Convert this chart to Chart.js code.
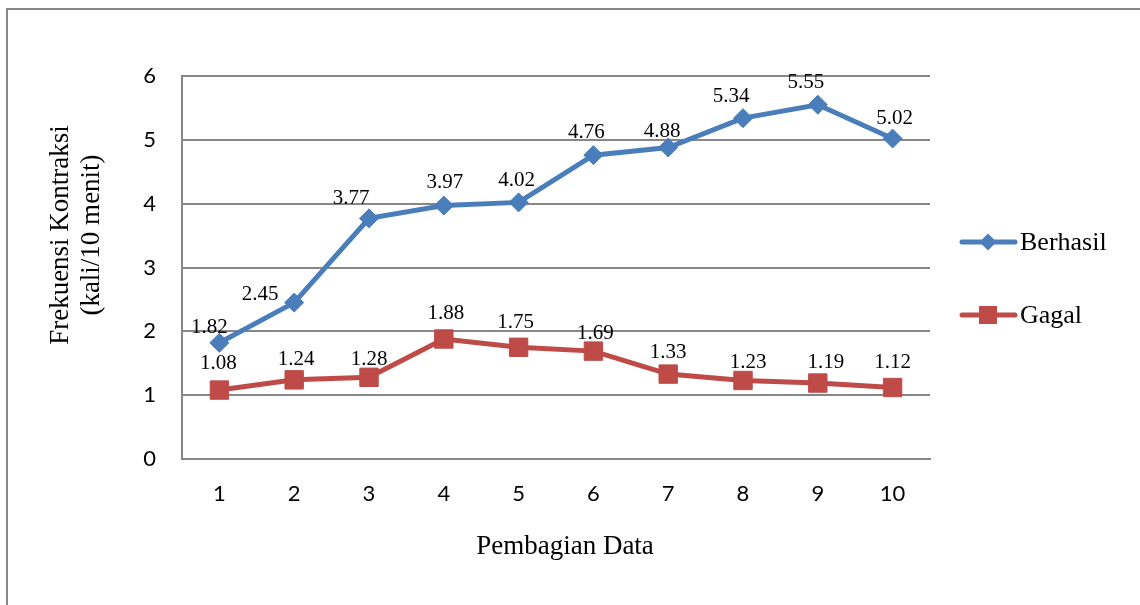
<!DOCTYPE html>
<html>
<head>
<meta charset="utf-8">
<title>Frekuensi Kontraksi</title>
<script src="https://cdn.jsdelivr.net/npm/chart.js@4.4.1/dist/chart.umd.min.js"></script>
<style>
  html, body { margin: 0; padding: 0; background: #ffffff; }
  #wrap { width: 1140px; height: 605px; position: relative; }
</style>
</head>
<body>
<div id="wrap"><canvas id="chart" width="1140" height="605"></canvas></div>
<script>
// Categories and series values
const categories = ['1', '2', '3', '4', '5', '6', '7', '8', '9', '10'];
const berhasil = [1.82, 2.45, 3.77, 3.97, 4.02, 4.76, 4.88, 5.34, 5.55, 5.02];
const gagal = [1.08, 1.24, 1.28, 1.88, 1.75, 1.69, 1.33, 1.23, 1.19, 1.12];
const yTicks = [0, 1, 2, 3, 4, 5, 6];

const xTitle = 'Pembagian Data';
const yTitleLines = ['Frekuensi Kontraksi', '(kali/10 menit)'];

const BLUE = '#4a7ebb';
const RED = '#be4b48';
const GRID = '#878787';
const SERIF = '"Liberation Serif", "Times New Roman", serif';
const SANS = 'Lato, "Open Sans", sans-serif';

// Small nudges for the value labels so they sit clear of the lines
const labelNudge = [
  [[-10, -15], [-34, -8], [-18, -20], [1, -23], [-2, -22], [-7, -23], [-6, -16], [-12, -22], [-12, -22], [2, -20]],
  [[-1, -27], [2, -20], [0, -18], [2, -26], [-3, -25], [2, -18], [0, -22], [5, -18], [8, -21], [0, -25]]
];

// Outer frame (top and left edges)
const framePlugin = {
  id: 'frame',
  beforeDraw(chart) {
    const ctx = chart.ctx;
    ctx.save();
    ctx.fillStyle = '#ffffff';
    ctx.fillRect(0, 0, chart.width, chart.height);
    ctx.strokeStyle = GRID;
    ctx.lineWidth = 2;
    ctx.beginPath();
    ctx.moveTo(7, chart.height);
    ctx.lineTo(7, 9);
    ctx.lineTo(chart.width, 9);
    ctx.stroke();
    ctx.restore();
  }
};

// Value labels above each marker
const valueLabels = {
  id: 'valueLabels',
  afterDatasetsDraw(chart) {
    const ctx = chart.ctx;
    ctx.save();
    ctx.font = '21px ' + SERIF;
    ctx.fillStyle = '#000000';
    ctx.textAlign = 'center';
    ctx.textBaseline = 'middle';
    chart.data.datasets.forEach((ds, di) => {
      const meta = chart.getDatasetMeta(di);
      meta.data.forEach((pt, i) => {
        const n = labelNudge[di][i];
        ctx.fillText(ds.data[i].toFixed(2), pt.x + n[0], pt.y + n[1]);
      });
    });
    ctx.restore();
  }
};

// Axis titles and the line-with-marker legend on the right
const titlesAndLegend = {
  id: 'titlesAndLegend',
  afterDraw(chart) {
    const ctx = chart.ctx;
    ctx.save();
    ctx.fillStyle = '#000000';
    ctx.font = '27px ' + SERIF;
    ctx.textAlign = 'center';
    ctx.textBaseline = 'middle';
    ctx.fillText(xTitle, 565, 547);

    ctx.save();
    ctx.translate(61, 235);
    ctx.rotate(-Math.PI / 2);
    ctx.fillText(yTitleLines[0], 0, 0);
    ctx.restore();
    ctx.save();
    ctx.translate(92, 235);
    ctx.rotate(-Math.PI / 2);
    ctx.fillText(yTitleLines[1], 0, 0);
    ctx.restore();

    const rows = [242, 315];
    chart.data.datasets.forEach((ds, di) => {
      const y = rows[di];
      ctx.strokeStyle = ds.borderColor;
      ctx.lineWidth = 5;
      ctx.lineCap = 'round';
      ctx.beginPath();
      ctx.moveTo(962, y);
      ctx.lineTo(1015, y);
      ctx.stroke();
      ctx.fillStyle = ds.backgroundColor;
      ctx.beginPath();
      if (ds.pointStyle === 'rectRot') {
        const r = 8.5;
        ctx.moveTo(988 - r, y);
        ctx.lineTo(988, y - r);
        ctx.lineTo(988 + r, y);
        ctx.lineTo(988, y + r);
        ctx.closePath();
      } else {
        ctx.rect(988 - 9, y - 9, 18, 18);
      }
      ctx.fill();
      ctx.fillStyle = '#000000';
      ctx.textAlign = 'left';
      ctx.font = '26px ' + SERIF;
      ctx.fillText(ds.label, 1020, y + 1);
    });
    ctx.restore();
  }
};

new Chart(document.getElementById('chart'), {
  type: 'line',
  data: {
    labels: categories,
    datasets: [
      {
        label: 'Berhasil',
        data: berhasil,
        borderColor: BLUE,
        backgroundColor: BLUE,
        borderWidth: 5,
        pointStyle: 'rectRot',
        pointRadius: 9.5,
        pointBorderWidth: 1,
        pointBackgroundColor: BLUE,
        pointBorderColor: BLUE,
        tension: 0
      },
      {
        label: 'Gagal',
        data: gagal,
        borderColor: RED,
        backgroundColor: RED,
        borderWidth: 5,
        pointStyle: 'rect',
        pointRadius: 13,
        pointBorderWidth: 1,
        pointBackgroundColor: RED,
        pointBorderColor: RED,
        tension: 0
      }
    ]
  },
  options: {
    responsive: false,
    animation: false,
    devicePixelRatio: 1,
    layout: { padding: { left: 0, right: 210, top: 76, bottom: 0 } },
    plugins: {
      legend: { display: false },
      tooltip: { enabled: false },
      title: { display: false }
    },
    scales: {
      x: {
        type: 'category',
        offset: true,
        grid: { display: false, drawTicks: false },
        border: { display: true, color: GRID, width: 2 },
        ticks: {
          color: '#000000',
          font: { family: SANS, size: 22 },
          padding: 22,
          maxRotation: 0,
          autoSkip: false
        },
        afterFit(scale) { scale.height = 146; }
      },
      y: {
        min: 0,
        max: 6,
        afterBuildTicks(scale) { scale.ticks = yTicks.map(v => ({ value: v })); },
        grid: { color: GRID, lineWidth: 2, drawTicks: false },
        border: { display: true, color: GRID, width: 2 },
        ticks: {
          color: '#000000',
          font: { family: SANS, size: 22 },
          padding: 26
        },
        afterFit(scale) { scale.width = 182; }
      }
    }
  },
  plugins: [framePlugin, valueLabels, titlesAndLegend]
});
</script>
</body>
</html>
